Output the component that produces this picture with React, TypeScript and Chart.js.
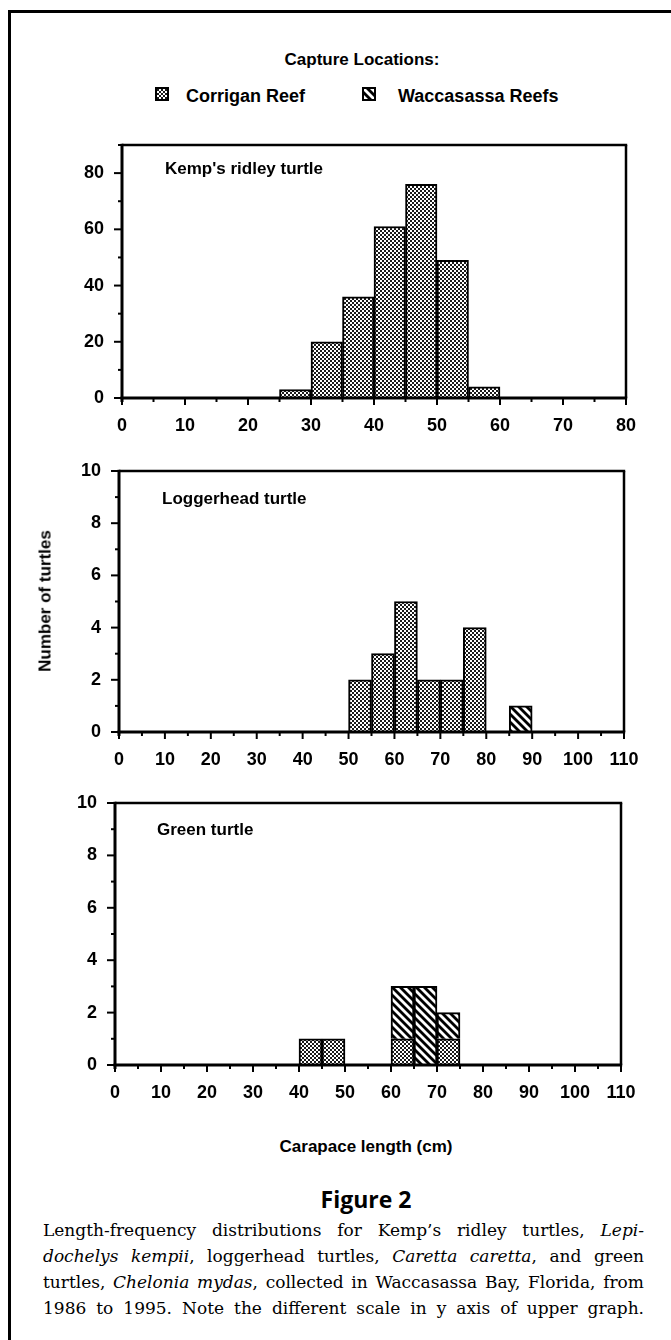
import React, { useEffect, useRef } from "react";
import { Chart, registerables } from "chart.js";

Chart.register(...registerables);

// ---------------- data ----------------
const corriganLabel = "Corrigan Reef";
const waccasassaLabel = "Waccasassa Reefs";
const legendTitle = "Capture Locations:";
const binWidth = 5; // cm

const kempTitle = "Kemp's ridley turtle";
const kempBinStarts = [25, 30, 35, 40, 45, 50, 55];
const kempCorrigan = [3, 20, 36, 61, 76, 49, 4];
const kempWaccasassa = [0, 0, 0, 0, 0, 0, 0];
const kempYMax = 90;
const kempYLabelStep = 20;
const kempYMinorStep = 10;
const kempXMax = 80;

const loggerTitle = "Loggerhead turtle";
const loggerBinStarts = [50, 55, 60, 65, 70, 75, 85];
const loggerCorrigan = [2, 3, 5, 2, 2, 4, 0];
const loggerWaccasassa = [0, 0, 0, 0, 0, 0, 1];

const greenTitle = "Green turtle";
const greenBinStarts = [40, 45, 60, 65, 70];
const greenCorrigan = [1, 1, 1, 0, 1];
const greenWaccasassa = [0, 0, 2, 3, 1];

const smallYMax = 10;
const smallYLabelStep = 2;
const smallYMinorStep = 1;
const wideXMax = 110;
const xLabelStep = 10;
const xMinorStep = 5;

const yAxisTitle = "Number of turtles";
const xAxisTitle = "Carapace length (cm)";
const figureLabel = "Figure 2";

// ---------------- layout ----------------
const PAGE_W = 671;
const PAGE_H = 1340;
const SANS = "'Liberation Sans', Arial, Helvetica, sans-serif";
const TICK_FONT = { family: "'Liberation Sans', Arial, sans-serif", size: 18, weight: "bold" as const };

type PanelCfg = {
  title: string;
  starts: number[];
  corrigan: number[];
  wacc: number[];
  yMax: number;
  yLabelStep: number;
  yMinorStep: number;
  xMax: number;
  canvasTop: number;
  canvasH: number;
  left: number;
  right: number;
  top: number;
  bottom: number;
  titleLeft: number;
  titleY: number;
};

const panels: PanelCfg[] = [
  {
    title: kempTitle, starts: kempBinStarts, corrigan: kempCorrigan, wacc: kempWaccasassa,
    yMax: kempYMax, yLabelStep: kempYLabelStep, yMinorStep: kempYMinorStep, xMax: kempXMax,
    canvasTop: 118, canvasH: 320, left: 122, right: 626, top: 145, bottom: 398,
    titleLeft: 165, titleY: 168,
  },
  {
    title: loggerTitle, starts: loggerBinStarts, corrigan: loggerCorrigan, wacc: loggerWaccasassa,
    yMax: smallYMax, yLabelStep: smallYLabelStep, yMinorStep: smallYMinorStep, xMax: wideXMax,
    canvasTop: 440, canvasH: 330, left: 119, right: 624, top: 471, bottom: 732,
    titleLeft: 162, titleY: 498,
  },
  {
    title: greenTitle, starts: greenBinStarts, corrigan: greenCorrigan, wacc: greenWaccasassa,
    yMax: smallYMax, yLabelStep: smallYLabelStep, yMinorStep: smallYMinorStep, xMax: wideXMax,
    canvasTop: 775, canvasH: 330, left: 115, right: 621, top: 803, bottom: 1065,
    titleLeft: 157, titleY: 829,
  },
];

// ---------------- patterns ----------------
function makeStipple(ctx: CanvasRenderingContext2D): CanvasPattern {
  const c = document.createElement("canvas");
  c.width = 4;
  c.height = 4;
  const g = c.getContext("2d")!;
  g.fillStyle = "#ffffff";
  g.fillRect(0, 0, 4, 4);
  g.fillStyle = "#1a1a1a";
  g.fillRect(0, 0, 2, 2);
  g.fillRect(2, 2, 2, 2);
  return ctx.createPattern(c, "repeat")!;
}

function makeHatch(ctx: CanvasRenderingContext2D): CanvasPattern {
  const s = 8;
  const c = document.createElement("canvas");
  c.width = s;
  c.height = s;
  const g = c.getContext("2d")!;
  g.fillStyle = "#000";
  g.fillRect(0, 0, s, s);
  g.strokeStyle = "#fff";
  g.lineWidth = 2.8;
  for (const k of [-s, 0, s]) {
    g.beginPath();
    g.moveTo(k - 1, -1);
    g.lineTo(k + s + 1, s + 1);
    g.stroke();
  }
  return ctx.createPattern(c, "repeat")!;
}

// ---------------- plugin: axes, ticks, frame ----------------
const framePlugin = {
  id: "frameTicks",
  afterDatasetsDraw(chart: any) {
    const { ctx, chartArea: a, scales } = chart;
    const xs = scales.x;
    const ys = scales.y;
    const line = (x1: number, y1: number, x2: number, y2: number) => {
      ctx.beginPath();
      ctx.moveTo(x1, y1);
      ctx.lineTo(x2, y2);
      ctx.stroke();
    };
    ctx.save();
    ctx.strokeStyle = "#000";
    ctx.lineCap = "butt";
    ctx.lineWidth = 2.5;
    line(a.left, a.top, a.right + 1.2, a.top);
    line(a.right, a.top, a.right, a.bottom);
    ctx.lineWidth = 3;
    line(a.left, a.top - 1.2, a.left, a.bottom + 4);
    line(a.left - 1.5, a.bottom, a.right + 1.2, a.bottom);
    ctx.lineWidth = 2;
    for (const t of ys.ticks) {
      const py = ys.getPixelForValue(t.value);
      const major = t.label !== "";
      line(a.left - (major ? 8 : 4), py, a.left, py);
    }
    for (const t of xs.ticks) {
      const px = xs.getPixelForValue(t.value);
      const major = t.label !== "";
      line(px, a.bottom, px, a.bottom + (major ? 7 : 4));
    }
    ctx.restore();
  },
};

function toPoints(starts: number[], vals: number[]) {
  return starts.map((s, i) => ({ x: s + binWidth / 2, y: vals[i] === 0 ? null : vals[i] }));
}

function Panel({ cfg }: { cfg: PanelCfg }) {
  const ref = useRef<HTMLCanvasElement>(null);
  useEffect(() => {
    const canvas = ref.current!;
    const ctx = canvas.getContext("2d")!;
    const stipple = makeStipple(ctx);
    const hatch = makeHatch(ctx);
    const yAxisW = 60;
    const barCommon = {
      borderColor: "#000",
      borderWidth: 2,
      borderSkipped: "start" as const,
      barPercentage: 1,
      categoryPercentage: 1,
    };
    const chart = new Chart(ctx, {
      type: "bar",
      data: {
        datasets: [
          { label: corriganLabel, data: toPoints(cfg.starts, cfg.corrigan) as any, backgroundColor: stipple as any, ...barCommon },
          { label: waccasassaLabel, data: toPoints(cfg.starts, cfg.wacc) as any, backgroundColor: hatch as any, ...barCommon },
        ],
      },
      options: {
        animation: false,
        responsive: false,
        maintainAspectRatio: false,
        devicePixelRatio: 1,
        layout: {
          padding: {
            left: cfg.left - yAxisW,
            right: PAGE_W - cfg.right,
            top: cfg.top - cfg.canvasTop,
            bottom: 0,
          },
        },
        plugins: { legend: { display: false }, tooltip: { enabled: false }, title: { display: false } },
        scales: {
          x: {
            type: "linear",
            min: 0,
            max: cfg.xMax,
            offset: false,
            stacked: true,
            grid: { display: false },
            border: { display: false },
            ticks: {
              stepSize: xMinorStep,
              autoSkip: false,
              maxRotation: 0,
              minRotation: 0,
              padding: 9,
              color: "#000",
              font: TICK_FONT,
              callback: (v: any) => (Number(v) % xLabelStep === 0 ? String(v) : ""),
            },
            afterFit: (s: any) => {
              s.height = cfg.canvasTop + cfg.canvasH - cfg.bottom;
            },
          },
          y: {
            type: "linear",
            min: 0,
            max: cfg.yMax,
            stacked: true,
            grid: { display: false },
            border: { display: false },
            ticks: {
              stepSize: cfg.yMinorStep,
              autoSkip: false,
              padding: 10,
              color: "#000",
              font: TICK_FONT,
              callback: (v: any) => (Number(v) % cfg.yLabelStep === 0 ? String(v) : ""),
            },
            afterFit: (s: any) => {
              s.width = yAxisW;
            },
          },
        },
      },
      plugins: [framePlugin],
    } as any);
    return () => chart.destroy();
  }, [cfg]);
  return (
    <canvas
      ref={ref}
      width={PAGE_W}
      height={cfg.canvasH}
      style={{ position: "absolute", left: 0, top: cfg.canvasTop, width: PAGE_W, height: cfg.canvasH }}
    />
  );
}

function Swatch({ kind, left, top }: { kind: "stipple" | "hatch"; left: number; top: number }) {
  const ref = useRef<HTMLCanvasElement>(null);
  useEffect(() => {
    const c = ref.current!;
    const ctx = c.getContext("2d")!;
    ctx.clearRect(0, 0, c.width, c.height);
    ctx.fillStyle = kind === "stipple" ? makeStipple(ctx) : makeHatch(ctx);
    ctx.fillRect(0, 0, c.width, c.height);
    ctx.strokeStyle = "#000";
    ctx.lineWidth = 2;
    ctx.strokeRect(1, 1, c.width - 2, c.height - 2);
  }, [kind]);
  return <canvas ref={ref} width={14} height={14} style={{ position: "absolute", left, top }} />;
}

function Txt({ x, y, size, children, align = "left", weight = "bold", family = SANS, style = {} }: any) {
  const tx = align === "center" ? "-50%" : align === "right" ? "-100%" : "0";
  return (
    <div
      style={{
        position: "absolute",
        left: x,
        top: y,
        transform: `translate(${tx}, -50%)`,
        fontFamily: family,
        fontSize: size,
        fontWeight: weight,
        lineHeight: 1,
        whiteSpace: "nowrap",
        color: "#000",
        ...style,
      }}
    >
      {children}
    </div>
  );
}

const captionLines: React.ReactNode[] = [
  <>Length-frequency distributions for Kemp’s ridley turtles, <i>Lepi-</i></>,
  <><i>dochelys kempii</i>, loggerhead turtles, <i>Caretta caretta</i>, and green</>,
  <>turtles, <i>Chelonia mydas</i>, collected in Waccasassa Bay, Florida, from</>,
  <>1986 to 1995. Note the different scale in y axis of upper graph.</>,
];
const captionLineY = [1230, 1256, 1282, 1308];

export default function App() {
  return (
    <div style={{ position: "absolute", left: 0, top: 0, width: PAGE_W, height: PAGE_H, background: "#fff", overflow: "hidden" }}>
      {/* outer frame */}
      <div style={{ position: "absolute", left: 8, top: 10, width: PAGE_W - 8, height: 2.5, background: "#000" }} />
      <div style={{ position: "absolute", left: 8, top: 10, width: 2.5, height: PAGE_H - 10, background: "#000" }} />

      {/* legend */}
      <Txt x={362} y={59} size={17} align="center">{legendTitle}</Txt>
      <Swatch kind="stipple" left={155} top={87} />
      <Txt x={186} y={96} size={18}>{corriganLabel}</Txt>
      <Swatch kind="hatch" left={362} top={87} />
      <Txt x={398} y={96} size={18}>{waccasassaLabel}</Txt>

      {panels.map((p, i) => (
        <Panel key={i} cfg={p} />
      ))}
      {panels.map((p, i) => (
        <Txt key={"t" + i} x={p.titleLeft} y={p.titleY} size={17}>{p.title}</Txt>
      ))}

      <Txt x={45} y={601} size={17} align="center" style={{ transform: "translate(-50%, -50%) rotate(-90deg)" }}>
        {yAxisTitle}
      </Txt>
      <Txt x={366} y={1146} size={17} align="center">{xAxisTitle}</Txt>
      <Txt x={366} y={1199} size={23} align="center" family="'Open Sans', 'Noto Sans', sans-serif">{figureLabel}</Txt>

      {captionLines.map((ln, i) => (
        <div
          key={"c" + i}
          style={{
            position: "absolute",
            left: 43,
            width: 601,
            top: captionLineY[i] - 12,
            height: 24,
            lineHeight: "24px",
            overflow: "hidden",
            fontFamily: "'DejaVu Serif', serif",
            fontSize: 17,
            textAlign: "justify",
            textAlignLast: "justify" as any,
            color: "#000",
          }}
        >
          {ln}
        </div>
      ))}
    </div>
  );
}
